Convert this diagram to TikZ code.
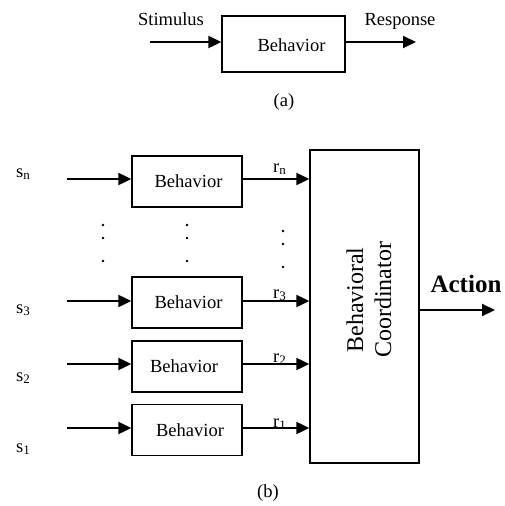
\documentclass[tikz,border=0pt]{standalone}
\usepackage{fontspec}
\setmainfont{Liberation Serif}
\usetikzlibrary{arrows.meta}
\begin{document}
\begin{tikzpicture}[x=1pt,y=-1pt,
  every node/.style={font=\fontsize{18.5}{22}\selectfont, inner sep=0pt},
  bbox/.style={draw, line width=1.3pt, minimum width=110pt, minimum height=51pt},
  bhv/.style={bbox, label={[xshift=#1]center:Behavior}},
  bhv/.default=0pt,
  arr/.style={line width=2pt, -{Triangle[length=13pt,width=12pt]}},
  lbl/.style={anchor=base west},
  dotm/.style={fill=black}
  ]
\useasboundingbox (0,0) rectangle (505,506);

% (a)
\node[bbox, minimum width=123pt, minimum height=56pt, label={[xshift=8pt, yshift=-1pt]center:Behavior}] (ab) at (283.5,44) {};
\coordinate (ain) at (150,42);
\coordinate (aout) at (416,42);
\draw[arr] (ain) -- (ain -| ab.west);
\draw[arr] (ab.east |- aout) -- (aout);
\node[anchor=base] (stim) at (171,25) {Stimulus};
\node[anchor=base] (resp) at (400,25) {Response};
\node[anchor=base] (la) at (284,106) {(a)};

% (b) boxes
\node[bhv=1.5pt] (bn) at (187,181.5) {};
\node[bhv=1.5pt] (b3) at (187,302.5) {};
\node[bhv=-3pt] (b2) at (187,366.5) {};
\node[bhv=3pt] (b1) at (187,430) {};

\node[draw, line width=1.3pt, minimum width=109pt, minimum height=313pt] (coord) at (364.5,306.5) {};
\node[rotate=90, align=center, font=\fontsize{24}{28}\selectfont] (ctext) at (369,300) {Behavioral\\Coordinator};

% inputs
\coordinate (sn) at (67,179);
\coordinate (s3) at (67,301);
\coordinate (s2) at (67,364);
\coordinate (s1) at (67,428);
\draw[arr] (sn) -- (sn -| bn.west);
\draw[arr] (s3) -- (s3 -| b3.west);
\draw[arr] (s2) -- (s2 -| b2.west);
\draw[arr] (s1) -- (s1 -| b1.west);

% outputs
\draw[arr] (bn.east |- sn) -- (coord.west |- sn);
\draw[arr] (b3.east |- s3) -- (coord.west |- s3);
\draw[arr] (b2.east |- s2) -- (coord.west |- s2);
\draw[arr] (b1.east |- s1) -- (coord.west |- s1);

% action
\coordinate (aend) at (495,310);
\draw[arr] (coord.east |- aend) -- (aend);
\node[anchor=base, font=\bfseries\fontsize{25}{30}\selectfont] (act) at (466,292) {Action};

% labels
\node[lbl] (lsn) at (16,177) {s\textsubscript{n}};
\node[lbl] (ls3) at (16,313) {s\textsubscript{3}};
\node[lbl] (ls2) at (16,381) {s\textsubscript{2}};
\node[lbl] (ls1) at (16,452) {s\textsubscript{1}};
\node[lbl] (lrn) at (273,172) {r\textsubscript{n}};
\node[lbl] (lr3) at (273,298) {r\textsubscript{3}};
\node[lbl] (lr2) at (273,362) {r\textsubscript{2}};
\node[lbl] (lr1) at (273,427) {r\textsubscript{1}};

% dots
\foreach \x in {103,187} {
  \foreach \y in {225,238,261} { \fill[dotm] (\x,\y) circle (1.4pt); }
}
\foreach \y in {231,244,267} { \fill[dotm] (283,\y) circle (1.4pt); }

\node[anchor=base] (lb) at (268,497) {(b)};
\end{tikzpicture}
\end{document}
